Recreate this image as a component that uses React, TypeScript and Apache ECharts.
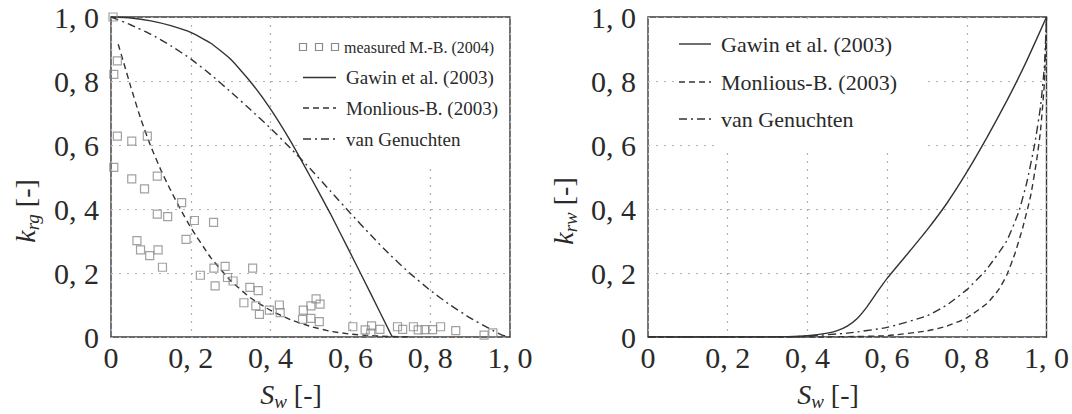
import React, { useEffect, useRef } from 'react';
import * as echarts from 'echarts';

// ---------- data ----------
const tickValues = [0, 0.2, 0.4, 0.6, 0.8, 1.0];
const tickLabels = ['0', '0, 2', '0, 4', '0, 6', '0, 8', '1, 0'];

const legendGas = ['measured M.-B. (2004)', 'Gawin et al. (2003)', 'Monlious-B. (2003)', 'van Genuchten'];
const legendWater = ['Gawin et al. (2003)', 'Monlious-B. (2003)', 'van Genuchten'];

const measuredGas: [number, number][] = [
  [0.005, 1.0], [0.016, 0.863], [0.007, 0.821], [0.016, 0.628], [0.052, 0.612], [0.091, 0.628],
  [0.007, 0.53], [0.052, 0.494], [0.084, 0.463], [0.116, 0.503], [0.116, 0.384], [0.142, 0.376],
  [0.177, 0.42], [0.209, 0.364], [0.257, 0.358], [0.188, 0.305], [0.065, 0.301], [0.074, 0.272],
  [0.097, 0.254], [0.118, 0.272], [0.129, 0.218], [0.224, 0.193], [0.258, 0.215], [0.286, 0.221],
  [0.261, 0.16], [0.292, 0.186], [0.306, 0.175], [0.355, 0.215], [0.348, 0.155], [0.369, 0.145],
  [0.333, 0.107], [0.363, 0.097], [0.372, 0.071], [0.397, 0.084], [0.422, 0.1], [0.424, 0.076],
  [0.482, 0.084], [0.48, 0.055], [0.501, 0.058], [0.522, 0.048], [0.501, 0.097], [0.514, 0.119],
  [0.524, 0.103], [0.606, 0.032], [0.637, 0.022], [0.653, 0.035], [0.651, 0.012], [0.674, 0.024],
  [0.718, 0.032], [0.731, 0.024], [0.758, 0.032], [0.77, 0.022], [0.787, 0.023], [0.806, 0.023],
  [0.826, 0.032], [0.864, 0.02], [0.935, 0.006], [0.957, 0.013],
];

const gawinGas: [number, number][] = [
  [0, 1.0], [0.05, 0.997], [0.1, 0.988], [0.15, 0.973], [0.2, 0.952], [0.25, 0.918], [0.3, 0.868],
  [0.35, 0.797], [0.4, 0.712], [0.45, 0.612], [0.5, 0.5], [0.55, 0.385], [0.6, 0.262], [0.65, 0.138],
  [0.7, 0.012], [0.705, 0],
];

const monliousGas: [number, number][] = [
  [0.018, 0.915], [0.03, 0.865], [0.05, 0.78], [0.075, 0.68], [0.1, 0.595], [0.125, 0.522],
  [0.15, 0.457], [0.175, 0.397], [0.2, 0.342], [0.25, 0.248], [0.3, 0.176], [0.35, 0.122],
  [0.4, 0.083], [0.45, 0.054], [0.5, 0.033], [0.55, 0.018], [0.6, 0.009], [0.65, 0.004],
  [0.7, 0.0015], [0.75, 0],
];

const vanGenuchtenGas: [number, number][] = [
  [0, 1.0], [0.05, 0.975], [0.1, 0.946], [0.15, 0.91], [0.2, 0.869], [0.25, 0.82], [0.3, 0.766],
  [0.35, 0.71], [0.4, 0.652], [0.45, 0.59], [0.5, 0.525], [0.55, 0.456], [0.6, 0.387],
  [0.65, 0.32], [0.7, 0.256], [0.75, 0.198], [0.8, 0.146], [0.85, 0.1], [0.9, 0.06], [0.95, 0.025],
  [0.98, 0.006], [1.0, 0],
];

const gawinWater: [number, number][] = [
  [0, 0], [0.1, 0], [0.2, 0], [0.3, 0.0005], [0.35, 0.001], [0.4, 0.004], [0.45, 0.012],
  [0.475, 0.02], [0.5, 0.034], [0.525, 0.058], [0.55, 0.095], [0.575, 0.14], [0.6, 0.183],
  [0.65, 0.258], [0.7, 0.334], [0.75, 0.418], [0.8, 0.515], [0.85, 0.622], [0.9, 0.737],
  [0.95, 0.862], [1.0, 1.0],
];

const monliousWater: [number, number][] = [
  [0, 0], [0.45, 0], [0.5, 0.001], [0.6, 0.004], [0.7, 0.019], [0.75, 0.034], [0.8, 0.06],
  [0.85, 0.104], [0.88, 0.148], [0.9, 0.193], [0.92, 0.258], [0.94, 0.34], [0.96, 0.44],
  [0.975, 0.55], [0.985, 0.645], [0.995, 0.8], [1.0, 1.0],
];

const vanGenuchtenWater: [number, number][] = [
  [0, 0], [0.35, 0], [0.4, 0.003], [0.5, 0.012], [0.6, 0.03], [0.7, 0.066], [0.75, 0.1],
  [0.8, 0.148], [0.85, 0.212], [0.9, 0.3], [0.93, 0.39], [0.95, 0.48], [0.97, 0.6],
  [0.985, 0.72], [0.995, 0.85], [1.0, 1.0],
];

// ---------- styles ----------
const SERIF = 'Liberation Serif';
const INK = '#2a2a2a';
const DASH = [6, 4];
const DASHDOT = [8, 4, 2, 4];

const fmt = (v: number) => {
  const i = tickValues.findIndex((t) => Math.abs(t - v) < 1e-6);
  return i >= 0 ? tickLabels[i] : '';
};

const mkAxisX = (gridIndex: number) => ({
  type: 'value', gridIndex, min: 0, max: 1, interval: 0.2,
  axisLine: { show: false }, axisTick: { show: false },
  splitLine: { show: true, lineStyle: { color: '#b0b0b0', width: 1.2, type: [2, 6] } },
  axisLabel: { formatter: fmt, fontFamily: SERIF, fontSize: 30, color: INK, margin: 5, showMinLabel: true, showMaxLabel: true, hideOverlap: false },
});
const mkAxisY = (gridIndex: number) => ({
  type: 'value', gridIndex, min: 0, max: 1, interval: 0.2,
  axisLine: { show: false }, axisTick: { show: false },
  splitLine: { show: true, lineStyle: { color: '#b0b0b0', width: 1.2, type: [2, 6] } },
  axisLabel: { formatter: fmt, fontFamily: SERIF, fontSize: 30, color: INK, margin: 12, showMinLabel: true, showMaxLabel: true, hideOverlap: false },
});

const lineSeries = (name: string, data: [number, number][], idx: number, type: any) => ({
  name, type: 'line', data, xAxisIndex: idx, yAxisIndex: idx, showSymbol: false, symbol: 'none',
  smooth: 0.15, clip: true, z: 3,
  lineStyle: { color: '#333', width: 1.4, type },
});

const titleRich = (fs: number) => ({
  i: { fontFamily: SERIF, fontStyle: 'italic', fontSize: fs, lineHeight: 34, verticalAlign: 'middle', fill: INK },
  sub: { fontFamily: SERIF, fontStyle: 'italic', fontSize: Math.round(fs * 0.68), lineHeight: Math.round(fs * 0.68), verticalAlign: 'bottom', fill: INK },
  n: { fontFamily: SERIF, fontSize: fs, lineHeight: 34, verticalAlign: 'middle', fill: INK },
});

const legendLine = (x1: number, x2: number, y: number, dash: any) => ({
  type: 'line', z: 10, shape: { x1, y1: y, x2, y2: y },
  style: { stroke: '#333', lineWidth: 1.4, lineDash: dash },
});
const legendText = (x: number, y: number, text: string, fs: number) => ({
  type: 'text', z: 10, x, y,
  style: { text, fontFamily: SERIF, fontSize: fs, fill: INK, align: 'left', verticalAlign: 'middle' },
});

export default function App() {
  const ref = useRef<HTMLDivElement>(null);
  useEffect(() => {
    if (!ref.current) return;
    const chart = echarts.init(ref.current, undefined, { renderer: 'svg' });
    const graphic: any[] = [
      // white panels behind legends
      { type: 'rect', z: 1, shape: { x: 300, y: 19, width: 208, height: 148 }, style: { fill: '#fff' } },
      { type: 'rect', z: 1, shape: { x: 676, y: 19, width: 250, height: 112 }, style: { fill: '#fff' } },
      { type: 'rect', z: 1, shape: { x: 716, y: 19, width: 210, height: 134 }, style: { fill: '#fff' } },
      // left legend
      ...[303, 319, 335].map((cx) => ({
        type: 'rect', z: 10, shape: { x: cx - 3.5, y: 47 - 3.5, width: 7, height: 7 },
        style: { fill: 'none', stroke: '#8a8a8a', lineWidth: 1.2 },
      })),
      legendText(344, 47, legendGas[0], 16),
      legendLine(303, 336, 77.5, null),
      legendText(346, 77.5, legendGas[1], 19),
      legendLine(303, 336, 108, DASH),
      legendText(346, 108, legendGas[2], 19),
      legendLine(303, 336, 139, DASHDOT),
      legendText(346, 139, legendGas[3], 19),
      // right legend
      legendLine(679, 711, 44, null),
      legendText(721, 44, legendWater[0], 22),
      legendLine(679, 711, 82, DASH),
      legendText(721, 82, legendWater[1], 22),
      legendLine(679, 711, 119, DASHDOT),
      legendText(721, 119, legendWater[2], 22),
      // axis titles
      {
        type: 'text', z: 10, x: 25, y: 211, rotation: Math.PI / 2,
        style: { text: '{i|k}{sub|rg}{n| [-]}', rich: titleRich(28), align: 'center', verticalAlign: 'middle' },
      },
      {
        type: 'text', z: 10, x: 563, y: 211, rotation: Math.PI / 2,
        style: { text: '{i|k}{sub|rw}{n| [-]}', rich: titleRich(28), align: 'center', verticalAlign: 'middle' },
      },
      {
        type: 'text', z: 10, x: 291, y: 394,
        style: { text: '{i|S}{sub|w}{n| [-]}', rich: titleRich(28), align: 'center', verticalAlign: 'middle' },
      },
      {
        type: 'text', z: 10, x: 828, y: 394,
        style: { text: '{i|S}{sub|w}{n| [-]}', rich: titleRich(28), align: 'center', verticalAlign: 'middle' },
      },
    ];

    chart.setOption({
      animation: false,
      backgroundColor: '#fff',
      textStyle: { fontFamily: SERIF },
      grid: [
        { left: 111, top: 17, width: 399, height: 320, show: true, borderColor: '#3a3a3a', borderWidth: 1.4, backgroundColor: 'transparent' },
        { left: 648, top: 17, width: 399, height: 320, show: true, borderColor: '#3a3a3a', borderWidth: 1.4, backgroundColor: 'transparent' },
      ],
      xAxis: [mkAxisX(0), mkAxisX(1)],
      yAxis: [mkAxisY(0), mkAxisY(1)],
      graphic,
      series: [
        {
          name: legendGas[0], type: 'scatter', data: measuredGas, xAxisIndex: 0, yAxisIndex: 0,
          symbol: 'rect', symbolSize: 8, z: 4,
          itemStyle: { color: 'rgba(255,255,255,0)', borderColor: '#8a8a8a', borderWidth: 1.2 },
        },
        lineSeries(legendGas[1], gawinGas, 0, 'solid'),
        lineSeries(legendGas[2], monliousGas, 0, DASH),
        lineSeries(legendGas[3], vanGenuchtenGas, 0, DASHDOT),
        lineSeries(legendWater[0], gawinWater, 1, 'solid'),
        lineSeries(legendWater[1], monliousWater, 1, DASH),
        lineSeries(legendWater[2], vanGenuchtenWater, 1, DASHDOT),
      ],
    });
    return () => chart.dispose();
  }, []);
  return <div ref={ref} style={{ position: 'absolute', left: 0, top: 0, width: 1072, height: 414 }} />;
}
